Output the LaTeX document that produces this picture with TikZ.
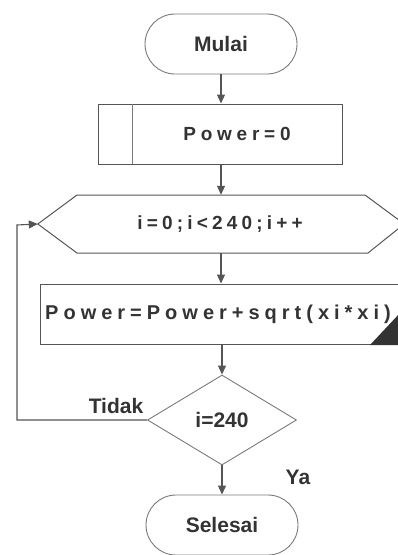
\documentclass[tikz,border=0pt]{standalone}
\usepackage{fontspec}
\setmainfont{Liberation Sans}
\usetikzlibrary{shapes.misc,shapes.geometric,arrows.meta}
\definecolor{ink}{HTML}{333333}
\definecolor{edge}{HTML}{555555}
\definecolor{faint}{HTML}{7A7A7A}
\newfontfamily\spaced[LetterSpace=25]{Liberation Sans}
\newfontfamily\spacedb[LetterSpace=22]{Liberation Sans}
\newfontfamily\spacedc[LetterSpace=25]{Liberation Sans}
\tikzset{
  every node/.style={text=ink, font=\bfseries\fontsize{21}{24}\selectfont},
  conn/.style={draw=edge, line width=1.1pt, -{Triangle[width=8pt,length=9pt]}},
  term/.style={rounded rectangle, draw=faint, line width=0.9pt, minimum width=152pt, minimum height=60pt, inner sep=0pt},
  procbox/.style={rectangle, draw=edge, line width=1pt, inner sep=0pt},
  spacedtext/.style={font=\spaced\bfseries\fontsize{19}{22}\selectfont},
  hextext/.style={font=\spacedb\bfseries\fontsize{19}{22}\selectfont},
  proctext/.style={font=\spacedc\bfseries\fontsize{20}{22}\selectfont},
  lbl/.style={inner sep=0pt}
}
\begin{document}
\begin{tikzpicture}[x=1pt,y=-1pt]
\useasboundingbox (0,0) rectangle (398,555);
% nodes
\node[term] (mulai) at (221,44) {Mulai};
\node[procbox, minimum width=244pt, minimum height=60pt] (pwr) at (220,134) {};
\node[spacedtext] (pwrt) at (237,134) {Power=0};
\draw[draw=faint, line width=0.8pt] (132,104) -- (132,164);
% hexagon
\node[inner sep=0pt, minimum width=366pt, minimum height=58pt] (hex) at (221,224) {};
\draw[draw=edge, line width=1pt] (hex.west) -- (77,195) -- (365,195) -- (hex.east) -- (368,253) -- (77,253) -- cycle;
\node[hextext] (hext) at (220,224) {i=0;i<240;i++};
% process box
\node[procbox, minimum width=400pt, minimum height=60pt] (proc) at (240,314) {};
\node[proctext, anchor=west, inner sep=0pt] (proct) at (45,314) {Power=Power+sqrt(xi*xi)};
\fill[ink] (370,345) -- (400,345) -- (400,313) -- cycle;
% decision
\node[diamond, draw=faint, line width=0.9pt, minimum width=149pt, minimum height=90pt, inner sep=0pt] (dec) at (222,420) {i=240};
% end
\node[term] (selesai) at (222,525) {Selesai};
% loop corner coordinates
\coordinate (c1) at (17,420);
\coordinate (c2) at (17,225);
% connectors
\draw[conn] (mulai.south) -- (pwr.north -| mulai.south);
\draw[conn] (pwr.south -| mulai.south) -- (hex.north -| mulai.south);
\draw[conn] (hex.south -| mulai.south) -- (proc.north -| mulai.south);
\draw[conn] (proc.south -| dec.north) -- (dec.north);
\draw[conn] (dec.south) -- (selesai.north);
\draw[conn] (dec.west) -- (c1) -- (c2) -- (hex.west);
% labels
\node[lbl] (tidak) at (116,406) {Tidak};
\node[lbl] (ya) at (298,477) {Ya};
\end{tikzpicture}
\end{document}
